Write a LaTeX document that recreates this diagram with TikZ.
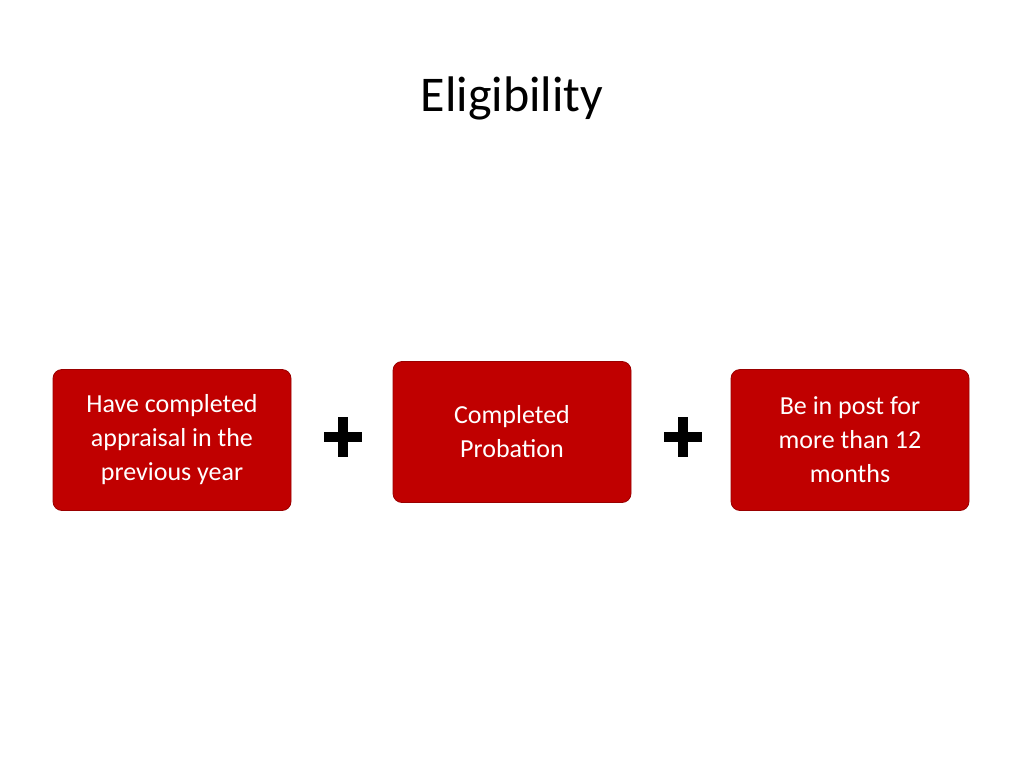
\documentclass[tikz,border=0pt]{standalone}
\usepackage{fontspec}
\setmainfont{Carlito}
\definecolor{boxred}{HTML}{C00000}
\begin{document}
\begin{tikzpicture}[x=1pt,y=-1pt,
  box/.style={fill=boxred,draw=boxred!80!black,line width=0.8pt,rounded corners=9pt,minimum width=238pt,minimum height=141pt,text=white,align=center,font=\fontsize{26}{34}\selectfont,inner sep=0pt},
  plus/.style={fill=black}]
\useasboundingbox (0,0) rectangle (1024,768);
\node[font=\fontsize{50}{60}\selectfont] (title) at (512,98) {Eligibility};
\node[box] (a) at (172,440) {\raisebox{10pt}{}Have completed\\appraisal in the\\previous year};
\node[box] (b) at (512,432) {Completed\\Probation};
\node[box] (c) at (850,440) {Be in post for\\more than 12\\months};
\foreach \n/\cx in {p1/343,p2/683}{
  \coordinate (\n) at (\cx,437);
  \fill[plus] ([xshift=-19pt,yshift=-5pt]\n) rectangle ([xshift=19pt,yshift=5pt]\n);
  \fill[plus] ([xshift=-5pt,yshift=-20pt]\n) rectangle ([xshift=5pt,yshift=20pt]\n);
}
\end{tikzpicture}
\end{document}
